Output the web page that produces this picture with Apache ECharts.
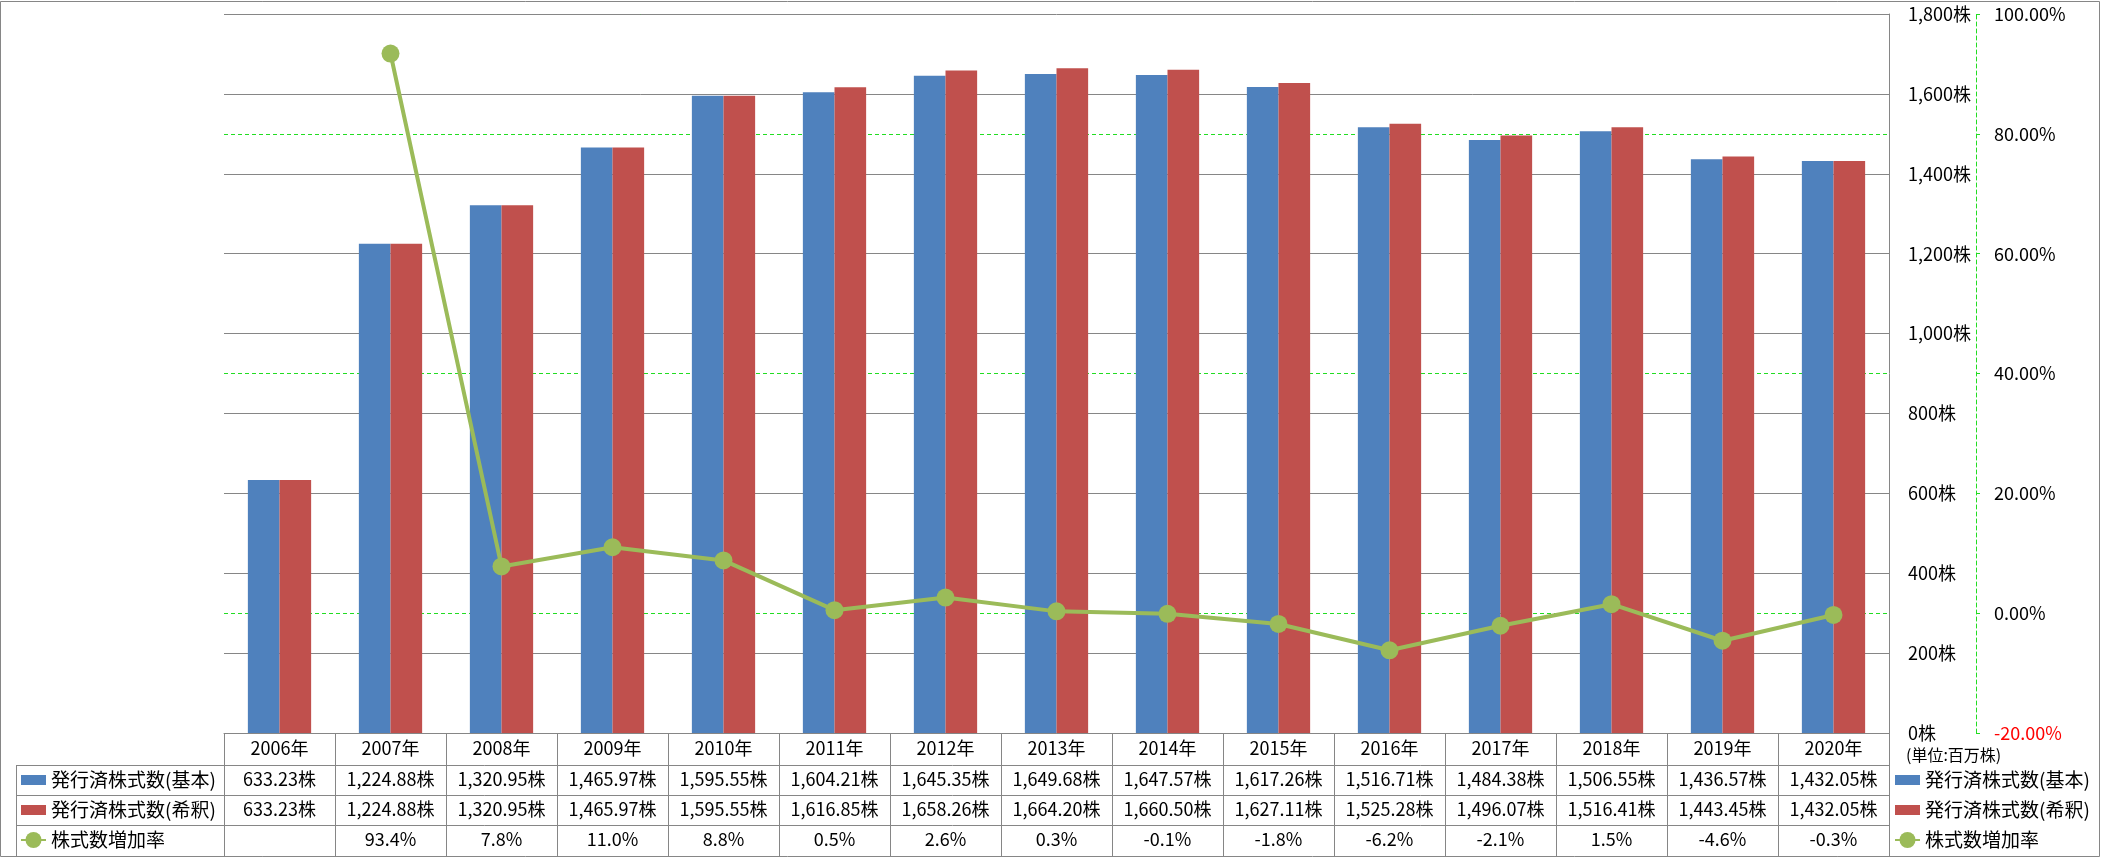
<!DOCTYPE html>
<html>
<head>
<meta charset="utf-8">
<script src="https://cdn.jsdelivr.net/npm/echarts@6/dist/echarts.min.js"></script>
<style>
html,body{margin:0;padding:0;background:#fff;}
#c{width:2101px;height:858px;}
</style>
</head>
<body>
<div id="c"></div>
<script>
const categories = ['2006年','2007年','2008年','2009年','2010年','2011年','2012年','2013年','2014年','2015年','2016年','2017年','2018年','2019年','2020年'];
const basicShares = [633.23,1224.88,1320.95,1465.97,1595.55,1604.21,1645.35,1649.68,1647.57,1617.26,1516.71,1484.38,1506.55,1436.57,1432.05];
const dilutedShares = [633.23,1224.88,1320.95,1465.97,1595.55,1616.85,1658.26,1664.20,1660.50,1627.11,1525.28,1496.07,1516.41,1443.45,1432.05];
const growthRate = [null,93.4,7.8,11.0,8.8,0.5,2.6,0.3,-0.1,-1.8,-6.2,-2.1,1.5,-4.6,-0.3];
const seriesNames = ['発行済株式数(基本)','発行済株式数(希釈)','株式数増加率'];
const unitLabel = '(単位:百万株)';

const FONT = '"Noto Sans CJK JP", "Noto Sans", sans-serif';
const GRAY = '#868686';
const GREEN_AX = '#22dd22';

function fmtShares(v){
  return v.toLocaleString('en-US',{minimumFractionDigits:2,maximumFractionDigits:2}) + '株';
}
function fmtRate(v){
  return v === null ? '' : v.toFixed(1) + '%';
}

const chart = echarts.init(document.getElementById('c'));
const rectIcon = 'path://M0,0h25v10h-25z';
const legendCommon = {
  orient:'vertical', padding:0, itemWidth:25, itemHeight:20, itemGap:10,
  selectedMode:false,
  textStyle:{fontFamily:FONT,fontSize:19,color:'#000',lineHeight:20},
  data:[{name:seriesNames[0],icon:rectIcon},{name:seriesNames[1],icon:rectIcon},{name:seriesNames[2]}]
};

chart.setOption({
  animation:false,
  textStyle:{fontFamily:FONT},
  grid:{left:224,right:212,top:14,bottom:125,containLabel:false},
  legend:[
    Object.assign({left:20,top:770},legendCommon),
    Object.assign({left:1894,top:770},legendCommon)
  ],
  graphic:[
    {type:'rect',shape:{x:0.5,y:1.5,width:2099,height:855},style:{fill:null,stroke:GRAY,lineWidth:1},silent:true},
    {type:'line',shape:{x1:16,y1:765.5,x2:1889,y2:765.5},style:{stroke:GRAY,lineWidth:1}},
    {type:'line',shape:{x1:16,y1:795.5,x2:1889,y2:795.5},style:{stroke:GRAY,lineWidth:1}},
    {type:'line',shape:{x1:16,y1:825.5,x2:1889,y2:825.5},style:{stroke:GRAY,lineWidth:1}},
    {type:'line',shape:{x1:16.5,y1:765.5,x2:16.5,y2:856},style:{stroke:GRAY,lineWidth:1}},
    {type:'text',x:1906,y:755,style:{text:unitLabel,fontFamily:FONT,fontSize:16,fill:'#000',verticalAlign:'middle',align:'left'}}
  ],
  xAxis:{
    type:'category', data:categories, boundaryGap:true,
    axisLine:{lineStyle:{color:GRAY,width:1}},
    axisTick:{show:true,length:123,lineStyle:{color:GRAY,width:1}},
    axisLabel:{
      interval:0, margin:0,
      formatter:function(value, idx){
        return '{c|' + value + '}\n{v|' + fmtShares(basicShares[idx]) + '}\n{v|' + fmtShares(dilutedShares[idx]) + '}\n{v|' + fmtRate(growthRate[idx]) + '}';
      },
      rich:{
        c:{fontFamily:FONT,fontSize:18,lineHeight:31,color:'#000'},
        v:{fontFamily:FONT,fontSize:18,lineHeight:30,color:'#000'}
      }
    },
    splitLine:{show:false}
  },
  yAxis:[
    {
      type:'value', position:'right', min:0, max:1800, interval:200, z:1,
      axisLine:{show:true,lineStyle:{color:GRAY,width:1}},
      axisTick:{show:false},
      axisLabel:{margin:19,fontFamily:FONT,fontSize:18,color:'#000',align:'left',
        formatter:function(v){return v.toLocaleString('en-US')+'株';}},
      splitLine:{show:true,lineStyle:{color:GRAY,width:1}}
    },
    {
      type:'value', position:'right', offset:87, min:-20, max:100, interval:20, z:0,
      axisLine:{show:true,lineStyle:{color:GREEN_AX,width:1,type:[4,3]}},
      axisTick:{show:true,length:4,lineStyle:{color:GREEN_AX,width:1}},
      axisLabel:{margin:18,fontFamily:FONT,fontSize:18,align:'left',
        color:function(v){return Number(v) < 0 ? '#ff0000' : '#000';},
        formatter:function(v){return v.toFixed(2)+'%';}},
      splitLine:{show:true,lineStyle:{color:GREEN_AX,width:1,type:[4,3]}}
    }
  ],
  series:[
    {name:seriesNames[0],type:'bar',data:basicShares,barGap:'0%',barCategoryGap:'43%',itemStyle:{color:'#4f81bd'}},
    {name:seriesNames[1],type:'bar',data:dilutedShares,barGap:'0%',barCategoryGap:'43%',itemStyle:{color:'#c0504d'}},
    {name:seriesNames[2],type:'line',yAxisIndex:1,data:growthRate,symbol:'circle',symbolSize:18,
      itemStyle:{color:'#9bbb59'},lineStyle:{color:'#9bbb59',width:4},z:3}
  ]
});
</script>
</body>
</html>
